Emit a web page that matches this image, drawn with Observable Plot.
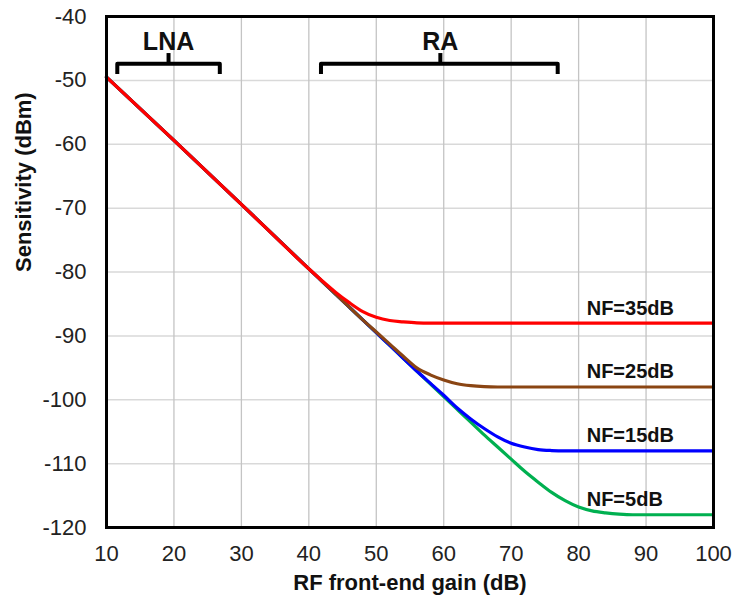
<!DOCTYPE html>
<html>
<head>
<meta charset="utf-8">
<script src="https://cdn.jsdelivr.net/npm/d3@7"></script>
<script src="https://cdn.jsdelivr.net/npm/@observablehq/plot@0.6"></script>
<style>
  html, body { margin: 0; padding: 0; background: white; }
</style>
</head>
<body>
<div id="chart"></div>
<script>
// ---- data ----
const gain = [10,20,30,40,42,44,46,48,50,52,54,56,58,60,62,64,66,68,70,72,74,76,78,80,82,84,86,88,90,95,100];
const nf35 = [-49.5,-59.4,-69.4,-79.5,-81.4,-83.2,-84.8,-86.2,-87.1,-87.6,-87.8,-87.95,-88,-88,-88,-88,-88,-88,-88,-88,-88,-88,-88,-88,-88,-88,-88,-88,-88,-88,-88];
const nf25 = [-49.5,-59.4,-69.4,-79.5,-81.5,-83.5,-85.5,-87.5,-89.4,-91.3,-93.2,-95.0,-96.1,-96.9,-97.5,-97.8,-97.95,-98,-98,-98,-98,-98,-98,-98,-98,-98,-98,-98,-98,-98,-98];
const nf15 = [-49.5,-59.4,-69.4,-79.5,-81.5,-83.5,-85.5,-87.5,-89.5,-91.5,-93.5,-95.5,-97.4,-99.3,-101.3,-103.0,-104.5,-105.8,-106.8,-107.4,-107.8,-107.95,-108,-108,-108,-108,-108,-108,-108,-108,-108];
const nf5  = [-49.5,-59.4,-69.4,-79.5,-81.5,-83.5,-85.5,-87.5,-89.5,-91.5,-93.5,-95.5,-97.5,-99.5,-101.5,-103.5,-105.5,-107.4,-109.3,-111.2,-112.9,-114.5,-115.8,-116.8,-117.4,-117.7,-117.9,-118,-118,-118,-118];

const seriesNames = ["NF=5dB","NF=15dB","NF=25dB","NF=35dB"];
const seriesValues = [nf5, nf15, nf25, nf35];
const seriesFloors = [-118, -108, -98, -88];

const xTicks = [10,20,30,40,50,60,70,80,90,100];
const yTicks = [-120,-110,-100,-90,-80,-70,-60,-50,-40];

const bracketNames = ["LNA","RA"];
const bracketStart = [11.6, 41.8];
const bracketEnd = [26.8, 76.9];
const bracketMid = [19.2, 59.5];

// ---- build tables ----
const rows = [];
seriesNames.forEach((name, i) => {
  gain.forEach((g, j) => rows.push({series: name, gain: g, value: seriesValues[i][j]}));
});
const labels = seriesNames.map((name, i) => ({series: name, floor: seriesFloors[i]}));

const yLine = -47.4, yEnd = -49.0, yTop = -45.8;
const bracketPts = [];
bracketNames.forEach((b, i) => {
  bracketPts.push({b, x: bracketStart[i], y: yEnd});
  bracketPts.push({b, x: bracketStart[i], y: yLine});
  bracketPts.push({b, x: bracketEnd[i], y: yLine});
  bracketPts.push({b, x: bracketEnd[i], y: yEnd});
});
const brackets = bracketNames.map((b, i) => ({b, mid: bracketMid[i]}));

const colors = {"NF=5dB": "#00b050", "NF=15dB": "#0000ff", "NF=25dB": "#8a4513", "NF=35dB": "#ff0000"};

const chart = Plot.plot({
  width: 734,
  height: 601,
  marginLeft: 106,
  marginRight: 21,
  marginTop: 16,
  marginBottom: 74,
  style: {fontFamily: "'Liberation Sans', Arial, sans-serif", background: "white", color: "#111"},
  x: {domain: [10, 100]},
  y: {domain: [-120, -40]},
  marks: [
    Plot.gridY(yTicks, {stroke: "#d9d9d9", strokeOpacity: 1, strokeWidth: 1.5}),
    Plot.gridX(xTicks, {stroke: "#c4c4c4", strokeOpacity: 1, strokeWidth: 1.3}),
    Plot.axisX(xTicks, {tickSize: 0, tickPadding: 18, fontSize: 22, label: null, fill: "#222", tickFormat: d => String(d)}),
    Plot.axisY(yTicks, {tickSize: 0, tickPadding: 20, fontSize: 22, label: null, fill: "#222", tickFormat: d => String(d)}),
    ...seriesNames.map(name => Plot.line(rows.filter(r => r.series === name), {
      x: "gain", y: "value", stroke: colors[name], strokeWidth: 3.2, curve: "monotone-x"
    })),
    Plot.frame({stroke: "black", strokeWidth: 3}),
    Plot.text(labels, {
      x: 81.2, y: "floor", text: "series", textAnchor: "start", lineAnchor: "middle",
      dy: -15, fontSize: 20, fontWeight: "bold", fill: "#111"
    }),
    Plot.line(bracketPts, {x: "x", y: "y", z: "b", stroke: "black", strokeWidth: 4, strokeLinejoin: "round", strokeLinecap: "butt"}),
    Plot.ruleX(brackets, {x: "mid", y1: yLine, y2: yTop, stroke: "black", strokeWidth: 4}),
    Plot.text(brackets, {x: "mid", y: yTop, text: "b", lineAnchor: "bottom", dy: -4, fontSize: 25, fontWeight: "bold", fill: "#111"}),
    Plot.text(["RF front-end gain (dB)"], {text: d => d, frameAnchor: "bottom", lineAnchor: "bottom", dy: 62, fontSize: 22, fontWeight: "bold", fill: "#111"}),
    Plot.text(["Sensitivity (dBm)"], {text: d => d, frameAnchor: "left", rotate: -90, lineAnchor: "middle", dx: -83, fontSize: 22, fontWeight: "bold", fill: "#111"})
  ]
});
document.getElementById("chart").appendChild(chart);
</script>
</body>
</html>
